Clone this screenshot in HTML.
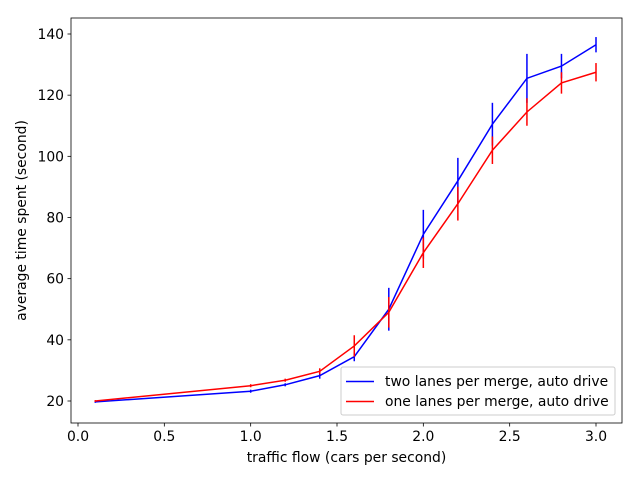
<!DOCTYPE html>
<html><head><meta charset="utf-8"><style>body{margin:0;background:#fff}svg text{font-family:"DejaVu Sans","Liberation Sans",sans-serif;font-size:13.9px;fill:#000}</style></head>
<body>
<svg id="chart" width="640" height="480" xmlns="http://www.w3.org/2000/svg"></svg>
<script>
const xs=[0.1,1.0,1.2,1.4,1.6,1.8,2.0,2.2,2.4,2.6,2.8,3.0];
const blueVals=[19.7,23.2,25.3,28.3,34.5,50,74.5,92,110.5,125.5,129.5,136.5];
const blueErr=[0.3,0.5,0.5,1,1.5,7,8,7.5,7,8,4,2.5];
const redVals=[20,25,26.8,29.7,38,49,68.5,84.5,102,114.5,124,127.5];
const redErr=[0.3,0.5,0.5,1,3.5,5,5,5.5,4.5,4.5,3.5,3];
const xTicks=[0.0,0.5,1.0,1.5,2.0,2.5,3.0];
const yTicks=[20,40,60,80,100,120,140];
const L=71,R=622,T=18,B=423;
const sx=v=>78+(v-0)*(596-78)/3;
const sy=v=>401-(v-20)*(401-34)/120;
const svg=document.getElementById('chart');const NS='http://www.w3.org/2000/svg';
function mk(t,a,p){const e=document.createElementNS(NS,t);for(const k in a)e.setAttribute(k,a[k]);(p||svg).appendChild(e);return e;}
xTicks.forEach(v=>{const g=mk('g',{});


mk('line',{x1:sx(v),x2:sx(v),y1:B,y2:B+3.5,stroke:'#000','stroke-width':0.8},g);
const t=mk('text',{x:sx(v),y:B+18,'text-anchor':'middle'},g);t.textContent=v.toFixed(1);});
yTicks.forEach(v=>{const g=mk('g',{});


mk('line',{x1:L-3.5,x2:L,y1:sy(v),y2:sy(v),stroke:'#000','stroke-width':0.8},g);
const t=mk('text',{x:L-7,y:sy(v)+5,'text-anchor':'end'},g);t.textContent=v;});
function series(vals,err,col,name){const g=mk('g',{});


mk('polyline',{points:xs.map((x,i)=>sx(x)+','+sy(vals[i])).join(' '),fill:'none',stroke:col,'stroke-width':1.5},g);
xs.forEach((x,i)=>{const l=mk('line',{x1:sx(x),x2:sx(x),y1:sy(vals[i]-err[i]),y2:sy(vals[i]+err[i]),stroke:col,'stroke-width':1.5},g);

});}
series(blueVals,blueErr,'#0000ff','series-two-lanes');
series(redVals,redErr,'#ff0000','series-one-lane');
const ax=mk('rect',{x:L,y:T,width:R-L,height:B-T,fill:'none',stroke:'#000','stroke-width':0.8});


const xt=mk('text',{x:(L+R)/2,y:462,'text-anchor':'middle'});xt.textContent='traffic flow (cars per second)';


const yt=mk('text',{x:26,y:(T+B)/2,'text-anchor':'middle',transform:'rotate(-90 26 '+((T+B)/2)+')'});yt.textContent='average time spent (second)';


const lg=mk('g',{});


mk('rect',{x:341,y:367,width:274,height:48,rx:2,fill:'#fff','fill-opacity':0.8,stroke:'#ccc','stroke-width':1},lg);
[['#0000ff','two lanes per merge, auto drive',386],['#ff0000','one lanes per merge, auto drive',406]].forEach(([c,s,y])=>{
const e=mk('g',{},lg);


mk('line',{x1:346,x2:374,y1:y-4.5,y2:y-4.5,stroke:c,'stroke-width':1.5},e);
const t=mk('text',{x:385,y:y},e);t.textContent=s;});
</script>
</body></html>
